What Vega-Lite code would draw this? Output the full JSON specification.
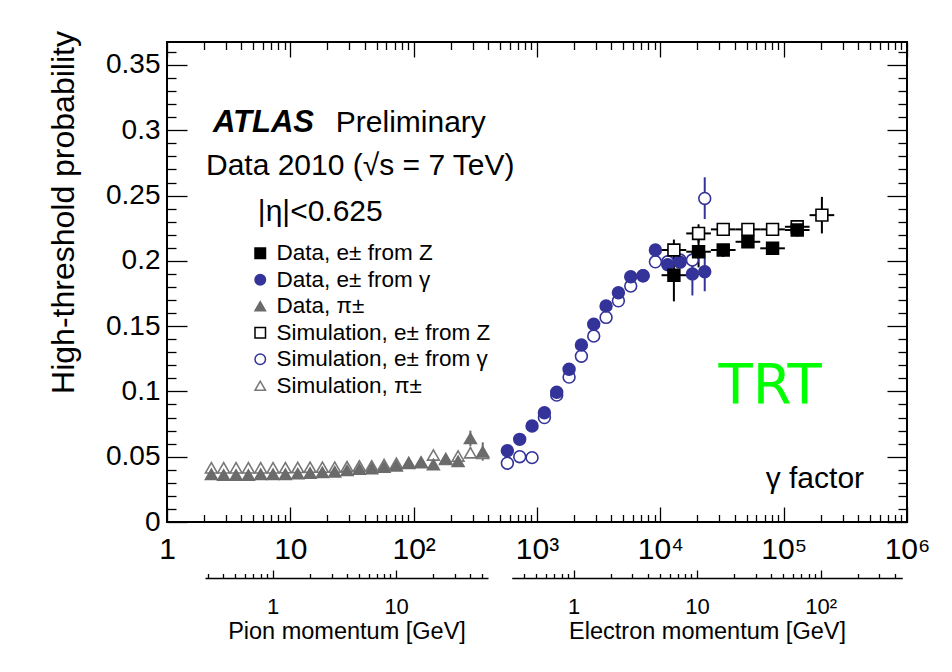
{
  "$schema": "https://vega.github.io/schema/vega-lite/v6.json",
  "width": 740,
  "height": 480,
  "autosize": {"type": "none"},
  "padding": {"left": 167, "top": 42, "right": 45, "bottom": 150},
  "background": "white",
  "config": {
    "view": {"stroke": "black", "strokeWidth": 2},
    "font": "Liberation Sans",
    "axis": {"domain": false, "grid": false, "tickColor": "black", "tickWidth": 1.3, "labelColor": "black", "titleColor": "black", "labelFont": "Liberation Sans", "titleFont": "Liberation Sans", "titleFontWeight": "normal"}
  },
  "data": {"values": [
    {"s": "Simulation, π±", "g": 2.29, "v": 0.0415},
    {"s": "Simulation, π±", "g": 2.88, "v": 0.0415},
    {"s": "Simulation, π±", "g": 3.63, "v": 0.0415},
    {"s": "Simulation, π±", "g": 4.57, "v": 0.0415},
    {"s": "Simulation, π±", "g": 5.75, "v": 0.0415},
    {"s": "Simulation, π±", "g": 7.24, "v": 0.0415},
    {"s": "Simulation, π±", "g": 9.12, "v": 0.0416},
    {"s": "Simulation, π±", "g": 11.48, "v": 0.0418},
    {"s": "Simulation, π±", "g": 14.45, "v": 0.042},
    {"s": "Simulation, π±", "g": 18.2, "v": 0.042},
    {"s": "Simulation, π±", "g": 22.91, "v": 0.042},
    {"s": "Simulation, π±", "g": 28.84, "v": 0.0424},
    {"s": "Simulation, π±", "g": 36.31, "v": 0.043},
    {"s": "Simulation, π±", "g": 45.71, "v": 0.043},
    {"s": "Simulation, π±", "g": 57.54, "v": 0.044},
    {"s": "Simulation, π±", "g": 72.44, "v": 0.045},
    {"s": "Simulation, π±", "g": 91.2, "v": 0.0455},
    {"s": "Simulation, π±", "g": 114.8, "v": 0.046},
    {"s": "Simulation, π±", "g": 144.5, "v": 0.0513},
    {"s": "Simulation, π±", "g": 182, "v": 0.048},
    {"s": "Simulation, π±", "g": 229.1, "v": 0.0505},
    {"s": "Simulation, π±", "g": 288.4, "v": 0.053, "lo": 0.049, "hi": 0.057},
    {"s": "Simulation, π±", "g": 363.1, "v": 0.0526, "lo": 0.048, "hi": 0.057},
    {"s": "Data, π±", "g": 2.29, "v": 0.0365},
    {"s": "Data, π±", "g": 2.88, "v": 0.036},
    {"s": "Data, π±", "g": 3.63, "v": 0.036},
    {"s": "Data, π±", "g": 4.57, "v": 0.036},
    {"s": "Data, π±", "g": 5.75, "v": 0.0365},
    {"s": "Data, π±", "g": 7.24, "v": 0.0365},
    {"s": "Data, π±", "g": 9.12, "v": 0.0365},
    {"s": "Data, π±", "g": 11.48, "v": 0.037},
    {"s": "Data, π±", "g": 14.45, "v": 0.0375},
    {"s": "Data, π±", "g": 18.2, "v": 0.038},
    {"s": "Data, π±", "g": 22.91, "v": 0.0385},
    {"s": "Data, π±", "g": 28.84, "v": 0.0395},
    {"s": "Data, π±", "g": 36.31, "v": 0.0405},
    {"s": "Data, π±", "g": 45.71, "v": 0.041},
    {"s": "Data, π±", "g": 57.54, "v": 0.042},
    {"s": "Data, π±", "g": 72.44, "v": 0.043},
    {"s": "Data, π±", "g": 91.2, "v": 0.045},
    {"s": "Data, π±", "g": 114.8, "v": 0.0455},
    {"s": "Data, π±", "g": 144.5, "v": 0.044},
    {"s": "Data, π±", "g": 182, "v": 0.0485},
    {"s": "Data, π±", "g": 229.1, "v": 0.0465},
    {"s": "Data, π±", "g": 288.4, "v": 0.064, "lo": 0.058, "hi": 0.07},
    {"s": "Data, π±", "g": 363.1, "v": 0.0538, "lo": 0.047, "hi": 0.061},
    {"s": "Simulation, e± from γ", "g": 575, "v": 0.045},
    {"s": "Simulation, e± from γ", "g": 724, "v": 0.05},
    {"s": "Simulation, e± from γ", "g": 912, "v": 0.0493},
    {"s": "Simulation, e± from γ", "g": 1148, "v": 0.08},
    {"s": "Simulation, e± from γ", "g": 1445, "v": 0.0972},
    {"s": "Simulation, e± from γ", "g": 1820, "v": 0.111},
    {"s": "Simulation, e± from γ", "g": 2291, "v": 0.127},
    {"s": "Simulation, e± from γ", "g": 2884, "v": 0.1424},
    {"s": "Simulation, e± from γ", "g": 3631, "v": 0.1567},
    {"s": "Simulation, e± from γ", "g": 4571, "v": 0.1694},
    {"s": "Simulation, e± from γ", "g": 5754, "v": 0.1807},
    {"s": "Simulation, e± from γ", "g": 7244, "v": 0.1886},
    {"s": "Simulation, e± from γ", "g": 9120, "v": 0.1993},
    {"s": "Simulation, e± from γ", "g": 11482, "v": 0.1993},
    {"s": "Simulation, e± from γ", "g": 14454, "v": 0.2006},
    {"s": "Simulation, e± from γ", "g": 18197, "v": 0.2006, "lo": 0.195, "hi": 0.206},
    {"s": "Simulation, e± from γ", "g": 22909, "v": 0.2478, "lo": 0.232, "hi": 0.264},
    {"s": "Data, e± from γ", "g": 575, "v": 0.0546},
    {"s": "Data, e± from γ", "g": 724, "v": 0.0633},
    {"s": "Data, e± from γ", "g": 912, "v": 0.0735},
    {"s": "Data, e± from γ", "g": 1148, "v": 0.0837},
    {"s": "Data, e± from γ", "g": 1445, "v": 0.0993},
    {"s": "Data, e± from γ", "g": 1820, "v": 0.117},
    {"s": "Data, e± from γ", "g": 2291, "v": 0.1355},
    {"s": "Data, e± from γ", "g": 2884, "v": 0.1514},
    {"s": "Data, e± from γ", "g": 3631, "v": 0.1654},
    {"s": "Data, e± from γ", "g": 4571, "v": 0.1756},
    {"s": "Data, e± from γ", "g": 5754, "v": 0.1878},
    {"s": "Data, e± from γ", "g": 7244, "v": 0.1886},
    {"s": "Data, e± from γ", "g": 9120, "v": 0.2083},
    {"s": "Data, e± from γ", "g": 11482, "v": 0.197},
    {"s": "Data, e± from γ", "g": 14454, "v": 0.199},
    {"s": "Data, e± from γ", "g": 18197, "v": 0.19, "lo": 0.1735, "hi": 0.2065},
    {"s": "Data, e± from γ", "g": 22909, "v": 0.1917, "lo": 0.1767, "hi": 0.2067},
    {"s": "Simulation, e± from Z", "g": 12882, "v": 0.2083, "lo": 0.2003, "hi": 0.2163, "xlo": 10233, "xhi": 16218},
    {"s": "Simulation, e± from Z", "g": 20417, "v": 0.221, "lo": 0.214, "hi": 0.228, "xlo": 16218, "xhi": 25704},
    {"s": "Simulation, e± from Z", "g": 32359, "v": 0.2241, "lo": 0.221, "hi": 0.227, "xlo": 25704, "xhi": 40738},
    {"s": "Simulation, e± from Z", "g": 51286, "v": 0.2241, "lo": 0.221, "hi": 0.227, "xlo": 40738, "xhi": 64565},
    {"s": "Simulation, e± from Z", "g": 81283, "v": 0.2241, "lo": 0.221, "hi": 0.227, "xlo": 64565, "xhi": 102329},
    {"s": "Simulation, e± from Z", "g": 128825, "v": 0.2261, "lo": 0.222, "hi": 0.23, "xlo": 102329, "xhi": 162181},
    {"s": "Simulation, e± from Z", "g": 204174, "v": 0.235, "lo": 0.221, "hi": 0.249, "xlo": 162181, "xhi": 257040},
    {"s": "Data, e± from Z", "g": 12882, "v": 0.189, "lo": 0.169, "hi": 0.209, "xlo": 10233, "xhi": 16218},
    {"s": "Data, e± from Z", "g": 20417, "v": 0.207, "lo": 0.195, "hi": 0.219, "xlo": 16218, "xhi": 25704},
    {"s": "Data, e± from Z", "g": 32359, "v": 0.2083, "lo": 0.203, "hi": 0.213, "xlo": 25704, "xhi": 40738},
    {"s": "Data, e± from Z", "g": 51286, "v": 0.2146, "lo": 0.2106, "hi": 0.2186, "xlo": 40738, "xhi": 64565},
    {"s": "Data, e± from Z", "g": 81283, "v": 0.2096, "lo": 0.2056, "hi": 0.2136, "xlo": 64565, "xhi": 102329},
    {"s": "Data, e± from Z", "g": 128825, "v": 0.2236, "lo": 0.2186, "hi": 0.2286, "xlo": 102329, "xhi": 162181}
  ]},
  "layer": [
    {
      "layer": [
        {
          "transform": [{"filter": "isValid(datum.lo)"}],
          "mark": {"type": "rule", "strokeWidth": 2},
          "encoding": {
            "x": {"field": "g", "type": "quantitative", "scale": {"type": "log", "domain": [1, 1000000], "nice": false}, "axis": {"orient": "bottom", "values": [1, 10, 100, 1000, 10000, 100000, 1000000], "tickSize": -15, "labelPadding": 27, "labelFontSize": 30, "labelExpr": "['1','10','10²','10³','10⁴','10⁵','10⁶'][round(log(datum.value)/LN10)]", "title": null, "labelFlush": false, "labelOverlap": false}},
            "y": {"field": "lo", "type": "quantitative", "scale": {"domain": [0, 0.3676], "nice": false, "zero": false}, "axis": {"orient": "left", "values": [0, 0.05, 0.1, 0.15, 0.2, 0.25, 0.3, 0.35], "format": ".2~f", "tickSize": -20, "labelPadding": 27, "labelFontSize": 28, "labelFlush": false, "labelOverlap": false, "labelBaseline": "middle", "title": "High-threshold probability", "titleFontSize": 32, "titleX": -104, "titleY": 170, "titleAngle": -90, "titleAlign": "center", "titleBaseline": "middle"}},
            "y2": {"field": "hi"},
            "stroke": {"condition": [{"test": "indexof(datum.s, 'γ') >= 0", "value": "#333399"}, {"test": "indexof(datum.s, 'π') >= 0", "value": "#6b6b6b"}], "value": "#000000"}
          }
        },
        {
          "transform": [{"filter": "isValid(datum.xlo)"}],
          "mark": {"type": "rule", "strokeWidth": 2, "stroke": "#000000"},
          "encoding": {
            "x": {"field": "xlo", "type": "quantitative"},
            "x2": {"field": "xhi"},
            "y": {"field": "v", "type": "quantitative"}
          }
        },
        {
          "mark": {"type": "point", "filled": true, "size": 140, "strokeWidth": 1.6, "opacity": 1},
          "encoding": {
            "x": {"field": "g", "type": "quantitative"},
            "y": {"field": "v", "type": "quantitative"},
            "shape": {"field": "s", "type": "nominal", "legend": {"title": null, "orient": "none", "legendX": 82, "legendY": 200, "labelFontSize": 22.5, "labelFont": "Liberation Sans", "labelColor": "black", "labelLimit": 400, "symbolSize": 110, "symbolStrokeWidth": 1.5, "rowPadding": 3.5, "labelOffset": 5, "padding": 0}, "scale": {"domain": ["Data, e± from Z", "Data, e± from γ", "Data, π±", "Simulation, e± from Z", "Simulation, e± from γ", "Simulation, π±"], "range": ["square", "circle", "triangle-up", "square", "circle", "triangle-up"]}},
            "fill": {"field": "s", "type": "nominal", "legend": {"title": null, "orient": "none", "legendX": 82, "legendY": 200, "labelFontSize": 22.5, "labelFont": "Liberation Sans", "labelColor": "black", "labelLimit": 400, "symbolSize": 110, "symbolStrokeWidth": 1.5, "rowPadding": 3.5, "labelOffset": 5, "padding": 0}, "scale": {"domain": ["Data, e± from Z", "Data, e± from γ", "Data, π±", "Simulation, e± from Z", "Simulation, e± from γ", "Simulation, π±"], "range": ["#000000", "#333399", "#6b6b6b", "#ffffff", "#ffffff", "#ffffff"]}},
            "stroke": {"field": "s", "type": "nominal", "legend": {"title": null, "orient": "none", "legendX": 82, "legendY": 200, "labelFontSize": 22.5, "labelFont": "Liberation Sans", "labelColor": "black", "labelLimit": 400, "symbolSize": 110, "symbolStrokeWidth": 1.5, "rowPadding": 3.5, "labelOffset": 5, "padding": 0}, "scale": {"domain": ["Data, e± from Z", "Data, e± from γ", "Data, π±", "Simulation, e± from Z", "Simulation, e± from γ", "Simulation, π±"], "range": ["#000000", "#333399", "#6b6b6b", "#000000", "#333399", "#777777"]}}
          }
        },
        {
          "data": {"values": [{}]},
          "mark": {"type": "text", "text": "ATLAS", "font": "Liberation Sans", "fontSize": 31, "fontWeight": "bold", "fontStyle": "italic", "align": "left", "baseline": "middle", "color": "black"},
          "encoding": {"x": {"datum": 2.358, "type": "quantitative"}, "y": {"datum": 0.3055, "type": "quantitative"}}
        },
        {
          "data": {"values": [{}]},
          "mark": {"type": "text", "text": "Preliminary", "font": "Liberation Sans", "fontSize": 30, "align": "left", "baseline": "middle", "color": "black"},
          "encoding": {"x": {"datum": 23.36, "type": "quantitative"}, "y": {"datum": 0.3055, "type": "quantitative"}}
        },
        {
          "data": {"values": [{}]},
          "mark": {"type": "text", "text": "Data 2010 (√s = 7 TeV)", "font": "Liberation Sans", "fontSize": 30, "align": "left", "baseline": "middle", "color": "black"},
          "encoding": {"x": {"datum": 2.07, "type": "quantitative"}, "y": {"datum": 0.2726, "type": "quantitative"}}
        },
        {
          "data": {"values": [{}]},
          "mark": {"type": "text", "text": "|η|<0.625", "font": "Liberation Sans", "fontSize": 30, "align": "left", "baseline": "middle", "color": "black"},
          "encoding": {"x": {"datum": 5.455, "type": "quantitative"}, "y": {"datum": 0.2374, "type": "quantitative"}}
        },
        {
          "data": {"values": [{}]},
          "mark": {"type": "text", "text": "TRT", "font": "DejaVu Sans", "fontSize": 56, "align": "center", "baseline": "middle", "color": "#00ff00"},
          "encoding": {"x": {"datum": 77750, "type": "quantitative"}, "y": {"datum": 0.1041, "type": "quantitative"}}
        },
        {
          "data": {"values": [{}]},
          "mark": {"type": "text", "text": "γ  factor", "font": "Liberation Sans", "fontSize": 30, "align": "right", "baseline": "middle", "color": "black"},
          "encoding": {"x": {"datum": 448700, "type": "quantitative"}, "y": {"datum": 0.0329, "type": "quantitative"}}
        }
      ]
    },
    {
      "mark": {"type": "point", "opacity": 0},
      "encoding": {
        "x": {"field": "g", "type": "quantitative", "scale": {"type": "log", "domain": [1, 1000000], "nice": false}, "axis": {"orient": "bottom", "values": [2,3,4,5,6,7,8,9,20,30,40,50,60,70,80,90,200,300,400,500,600,700,800,900,2000,3000,4000,5000,6000,7000,8000,9000,20000,30000,40000,50000,60000,70000,80000,90000,200000,300000,400000,500000,600000,700000,800000,900000], "tickSize": -7.5, "labels": false, "title": null}},
        "y": {"field": "v", "type": "quantitative", "scale": {"domain": [0, 0.3676], "nice": false, "zero": false}, "axis": {"orient": "left", "values": [0.01,0.02,0.03,0.04,0.06,0.07,0.08,0.09,0.11,0.12,0.13,0.14,0.16,0.17,0.18,0.19,0.21,0.22,0.23,0.24,0.26,0.27,0.28,0.29,0.31,0.32,0.33,0.34,0.36], "tickSize": -9, "labels": false, "title": null}}
      }
    },
    {
      "mark": {"type": "point", "opacity": 0},
      "encoding": {
        "x": {"field": "g", "type": "quantitative", "scale": {"type": "log", "domain": [1, 1000000], "nice": false}, "axis": {"orient": "top", "values": [1, 10, 100, 1000, 10000, 100000, 1000000], "tickSize": -15, "labels": false, "title": null}},
        "y": {"field": "v", "type": "quantitative", "scale": {"domain": [0, 0.3676], "nice": false, "zero": false}, "axis": {"orient": "right", "values": [0, 0.05, 0.1, 0.15, 0.2, 0.25, 0.3, 0.35], "tickSize": -20, "labels": false, "title": null}}
      }
    },
    {
      "mark": {"type": "point", "opacity": 0},
      "encoding": {
        "x": {"field": "g", "type": "quantitative", "scale": {"type": "log", "domain": [1, 1000000], "nice": false}, "axis": {"orient": "top", "values": [2,3,4,5,6,7,8,9,20,30,40,50,60,70,80,90,200,300,400,500,600,700,800,900,2000,3000,4000,5000,6000,7000,8000,9000,20000,30000,40000,50000,60000,70000,80000,90000,200000,300000,400000,500000,600000,700000,800000,900000], "tickSize": -7.5, "labels": false, "title": null}},
        "y": {"field": "v", "type": "quantitative", "scale": {"domain": [0, 0.3676], "nice": false, "zero": false}, "axis": {"orient": "right", "values": [0.01,0.02,0.03,0.04,0.06,0.07,0.08,0.09,0.11,0.12,0.13,0.14,0.16,0.17,0.18,0.19,0.21,0.22,0.23,0.24,0.26,0.27,0.28,0.29,0.31,0.32,0.33,0.34,0.36], "tickSize": -9, "labels": false, "title": null}}
      }
    },
    {
      "mark": {"type": "point", "opacity": 0},
      "encoding": {
        "x": {"field": "g", "type": "quantitative", "scale": {"type": "log", "domain": [0.2836, 55.45], "range": [38, 321], "nice": false}, "axis": {"orient": "bottom", "offset": 56, "values": [1, 10], "tickSize": -8, "labelPadding": 26, "labelFontSize": 22, "domain": true, "domainColor": "black", "domainWidth": 1.5, "labelFlush": false, "title": "Pion momentum [GeV]", "titleFontSize": 23.5, "titleY": 53, "titleBaseline": "middle"}}
      }
    },
    {
      "mark": {"type": "point", "opacity": 0},
      "encoding": {
        "x": {"field": "g", "type": "quantitative", "scale": {"type": "log", "domain": [0.2836, 55.45], "range": [38, 321], "nice": false}, "axis": {"orient": "bottom", "offset": 56, "values": [0.3,0.4,0.5,0.6,0.7,0.8,0.9,2,3,4,5,6,7,8,9,20,30,40,50], "tickSize": -4.5, "labels": false, "title": null}}
      }
    },
    {
      "mark": {"type": "point", "opacity": 0},
      "encoding": {
        "x": {"field": "g", "type": "quantitative", "scale": {"type": "log", "domain": [0.3158, 459], "range": [344.7, 735.3], "nice": false}, "axis": {"orient": "bottom", "offset": 56, "values": [1, 10, 100], "labelExpr": "['1','10','10²'][round(log(datum.value)/LN10)]", "tickSize": -8, "labelPadding": 26, "labelFontSize": 22, "domain": true, "domainColor": "black", "domainWidth": 1.5, "labelFlush": false, "title": "Electron momentum [GeV]", "titleFontSize": 23.5, "titleY": 53, "titleBaseline": "middle"}}
      }
    },
    {
      "mark": {"type": "point", "opacity": 0},
      "encoding": {
        "x": {"field": "g", "type": "quantitative", "scale": {"type": "log", "domain": [0.3158, 459], "range": [344.7, 735.3], "nice": false}, "axis": {"orient": "bottom", "offset": 56, "values": [0.4,0.5,0.6,0.7,0.8,0.9,2,3,4,5,6,7,8,9,20,30,40,50,60,70,80,90,200,300,400], "tickSize": -4.5, "labels": false, "title": null}}
      }
    }
  ],
  "resolve": {"scale": {"x": "independent", "y": "independent"}, "axis": {"x": "independent", "y": "independent"}}
}
